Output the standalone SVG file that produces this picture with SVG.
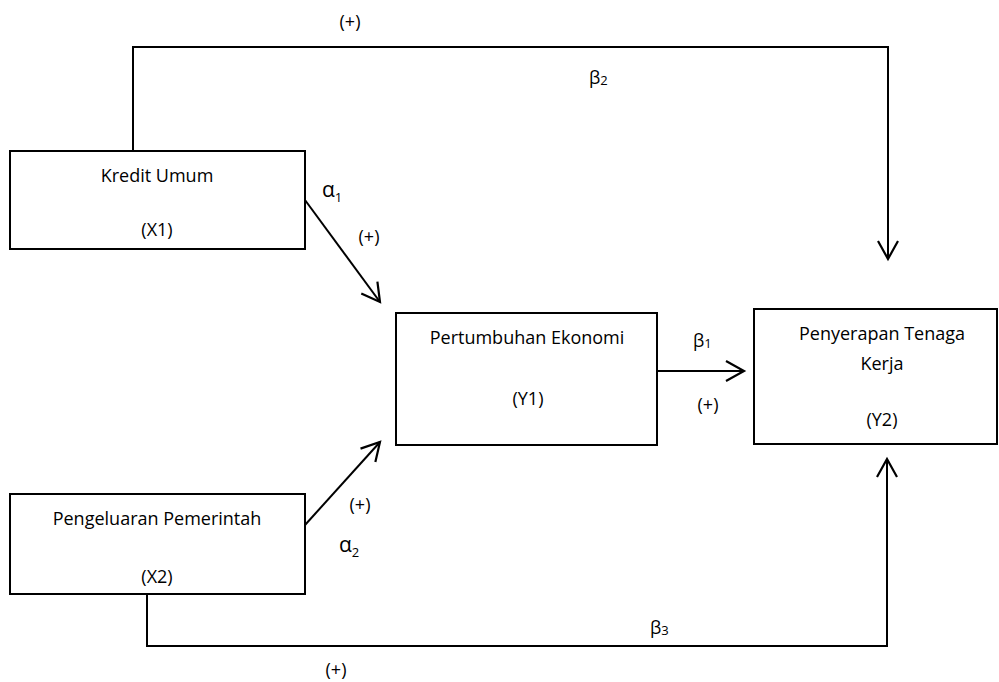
<svg xmlns="http://www.w3.org/2000/svg" width="999" height="682" viewBox="0 0 999 682">
<style>
.box{fill:#fff;stroke:#000;stroke-width:2}
.ln{fill:none;stroke:#000;stroke-width:2}
text{font-family:"Open Sans","Noto Sans","Liberation Sans",sans-serif;font-size:18px;fill:#000}
.c{text-anchor:middle}
.g{font-size:21px}
.s{font-size:13px}
</style>
<defs>
<marker id="ah" markerUnits="userSpaceOnUse" markerWidth="24" markerHeight="24" viewBox="-20 -12 24 24" refX="0" refY="0" orient="auto">
<path d="M-18,-10 L0,0 L-18,10" fill="none" stroke="#000" stroke-width="2.2"/>
</marker>
</defs>
<rect width="999" height="682" fill="#fff"/>
<g id="connectors">
<polyline class="ln" points="133,151 133,47 888,47 888,259" marker-end="url(#ah)"/>
<line class="ln" x1="305" y1="200" x2="380" y2="302" marker-end="url(#ah)"/>
<line class="ln" x1="305" y1="525" x2="380" y2="442" marker-end="url(#ah)"/>
<line class="ln" x1="657" y1="371" x2="744" y2="371" marker-end="url(#ah)"/>
<polyline class="ln" points="147,594 147,646 887,646 887,459" marker-end="url(#ah)"/>
</g>
<g id="labels">
<text class="c" x="350" y="28">(+)</text>
<text x="589" y="84">β<tspan class="s" dy="1">2</tspan></text>
<text x="322" y="197" class="g">α<tspan class="s" dy="5">1</tspan></text>
<text class="c" x="369" y="243">(+)</text>
<text x="693" y="347">β<tspan class="s" dy="1">1</tspan></text>
<text class="c" x="708" y="411">(+)</text>
<text class="c" x="360" y="511">(+)</text>
<text x="339" y="552" class="g">α<tspan class="s" dy="5">2</tspan></text>
<text x="650" y="634">β<tspan class="s" dy="1">3</tspan></text>
<text class="c" x="336" y="676">(+)</text>
</g>
<g id="x1">
<rect class="box" x="10" y="151" width="295" height="98"/>
<text class="c" x="157" y="182">Kredit Umum</text>
<text class="c" x="157" y="236">(X1)</text>
</g>
<g id="x2">
<rect class="box" x="10" y="494" width="295" height="100"/>
<text class="c" x="157" y="525">Pengeluaran Pemerintah</text>
<text class="c" x="157" y="583">(X2)</text>
</g>
<g id="y1">
<rect class="box" x="396" y="313" width="261" height="132"/>
<text class="c" x="527" y="344">Pertumbuhan Ekonomi</text>
<text class="c" x="528" y="405">(Y1)</text>
</g>
<g id="y2">
<rect class="box" x="754" y="309" width="243" height="135"/>
<text class="c" x="882" y="340">Penyerapan Tenaga</text>
<text class="c" x="882" y="370">Kerja</text>
<text class="c" x="882" y="426">(Y2)</text>
</g>
</svg>
